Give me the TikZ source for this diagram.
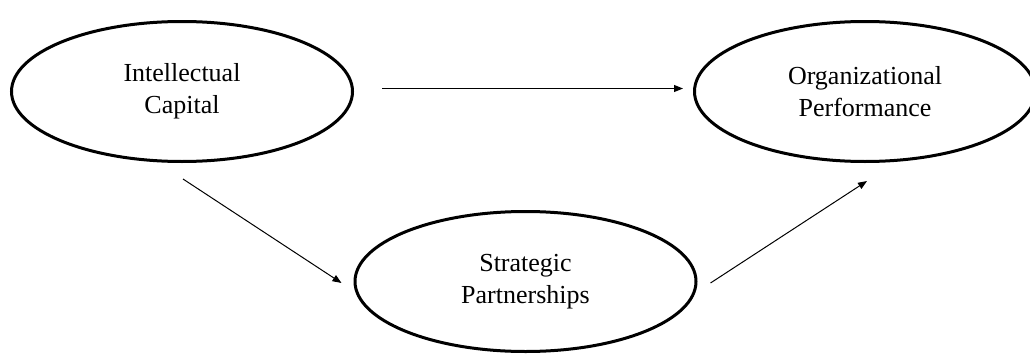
\documentclass[tikz,border=0pt]{standalone}
\usepackage{fontspec}
\setmainfont{Liberation Serif}
\usetikzlibrary{arrows.meta,shapes.geometric}
\begin{document}
\begin{tikzpicture}[x=1pt,y=-1pt,
  construct/.style={draw=black,line width=3pt,ellipse,inner sep=0pt,
    minimum width=341pt,minimum height=140pt,align=center,
    font=\fontsize{26}{32}\selectfont},
  link/.style={draw=black,line width=1pt,-{Triangle[length=9pt,width=7pt]}}]
\fill[white] (0,0) rectangle (1030,356);
\useasboundingbox (0,0) rectangle (1030,356);
\clip (0,0) rectangle (1030,356);
\node[construct] (ic) at (182,91.5) {Intellectual\\Capital};
\node[construct] (op) at (865,91.5) {Organizational\\Performance};
\node[construct] (sp) at (525.5,281.5) {Strategic\\Partnerships};
\draw[link] ([xshift=28pt,yshift=3pt]ic.east) -- ([xshift=-10pt,yshift=3pt]op.west);
\draw[link] ([xshift=1pt,yshift=-16pt]ic.south) -- ([xshift=-12pt,yshift=-1.5pt]sp.west);
\draw[link] ([xshift=13pt,yshift=-1.5pt]sp.east) -- ([xshift=2pt,yshift=-18pt]op.south);
\end{tikzpicture}
\end{document}
